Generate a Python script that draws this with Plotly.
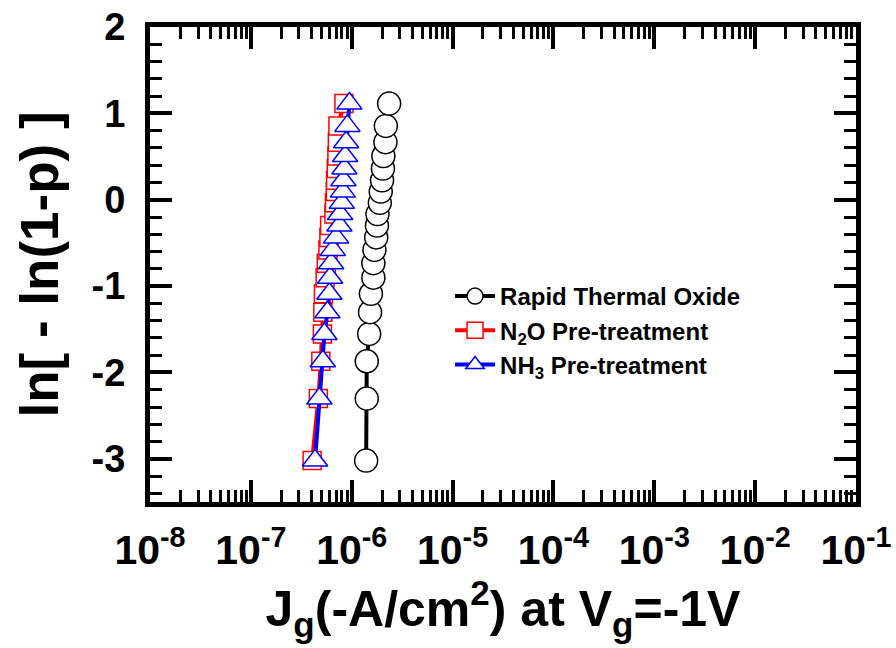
import plotly.graph_objects as go

# ln[-ln(1-p)] values
y_vals = [-3.020, -2.302, -1.870, -1.554, -1.302, -1.089, -0.903, -0.735, -0.581, -0.436,
          -0.299, -0.166, -0.036, 0.094, 0.225, 0.361, 0.506, 0.666, 0.855, 1.113]

# Jg (A/cm^2) values
rto_j = [1.39e-6, 1.41e-6, 1.41e-6, 1.49e-6, 1.52e-6, 1.55e-6, 1.64e-6, 1.64e-6, 1.68e-6, 1.75e-6,
         1.78e-6, 1.80e-6, 1.90e-6, 1.94e-6, 2.00e-6, 2.04e-6, 2.06e-6, 2.16e-6, 2.18e-6, 2.35e-6]
n2o_j = [4.05e-7, 4.67e-7, 4.94e-7, 5.12e-7, 5.17e-7, 5.24e-7, 5.45e-7, 5.60e-7, 5.81e-7, 5.94e-7,
         6.04e-7, 6.66e-7, 6.74e-7, 6.88e-7, 6.92e-7, 7.03e-7, 7.13e-7, 7.20e-7, 7.30e-7, 8.37e-7]
nh3_j = [4.33e-7, 4.78e-7, 5.17e-7, 5.36e-7, 5.74e-7, 6.01e-7, 6.11e-7, 6.25e-7, 6.49e-7, 7.00e-7,
         7.55e-7, 7.67e-7, 7.98e-7, 8.16e-7, 8.27e-7, 8.46e-7, 8.60e-7, 8.80e-7, 9.06e-7, 9.49e-7]

series_names = ["Rapid Thermal Oxide", "N<sub>2</sub>O Pre-treatment", "NH<sub>3</sub> Pre-treatment"]

x_tickvals = [1e-8, 1e-7, 1e-6, 1e-5, 1e-4, 1e-3, 1e-2, 1e-1]
x_ticktext = ["10<sup>-8</sup>", "10<sup>-7</sup>", "10<sup>-6</sup>", "10<sup>-5</sup>",
              "10<sup>-4</sup>", "10<sup>-3</sup>", "10<sup>-2</sup>", "10<sup>-1</sup>"]
y_tickvals = [-3, -2, -1, 0, 1, 2]
y_ticktext = ["-3", "-2", "-1", "0", "1", "2"]

FONT = "Liberation Sans, Arial, sans-serif"

fig = go.Figure()
fig.add_trace(go.Scatter(x=rto_j, y=y_vals, mode="lines+markers", name=series_names[0],
                         line=dict(color="black", width=4),
                         marker=dict(symbol="circle", size=23, color="white",
                                     line=dict(color="black", width=1.5))))
fig.add_trace(go.Scatter(x=n2o_j, y=y_vals, mode="lines+markers", name=series_names[1],
                         line=dict(color="#ff0000", width=4),
                         marker=dict(symbol="square", size=18, color="white",
                                     line=dict(color="#ff0000", width=1.5))))
fig.add_trace(go.Scatter(x=nh3_j, y=y_vals, mode="lines+markers", name=series_names[2],
                         line=dict(color="#0000ff", width=4),
                         marker=dict(symbol="triangle-up", size=22, color="white",
                                     line=dict(color="#0000ff", width=1.5))))

fig.update_layout(
    width=896, height=648,
    margin=dict(l=150, r=40, t=27, b=146),
    paper_bgcolor="white", plot_bgcolor="white",
    font=dict(family=FONT, color="black", weight="bold"),
    showlegend=True,
    legend=dict(x=0.425, y=0.48, xanchor="left", yanchor="top",
                bgcolor="rgba(0,0,0,0)", font=dict(size=24, family=FONT, weight="bold"),
                itemwidth=40),
)
fig.update_xaxes(
    type="log", range=[-8, -1],
    tickvals=x_tickvals, ticktext=x_ticktext,
    tickfont=dict(size=41, family=FONT, weight="bold"),
    ticks="inside", ticklen=22, tickwidth=4, tickcolor="black",
    minor=dict(ticks="inside", ticklen=12, tickwidth=2.5, tickcolor="black", dtick="D1", showgrid=False),
    showline=True, linewidth=5, linecolor="black", mirror="ticks",
    showgrid=False, zeroline=False, automargin=False,
    ticklabelstandoff=8,
    title=dict(text="J<sub>g</sub>(-A/cm<sup>2</sup>) at V<sub>g</sub>=-1V",
               font=dict(size=50, family=FONT, weight="bold"), standoff=6),
)
fig.update_yaxes(
    range=[-3.5, 2],
    tickvals=y_tickvals, ticktext=y_ticktext,
    tickfont=dict(size=38, family=FONT, weight="bold"),
    ticks="inside", ticklen=22, tickwidth=4, tickcolor="black",
    minor=dict(ticks="inside", ticklen=12, tickwidth=2.5, tickcolor="black", dtick=0.2, showgrid=False),
    showline=True, linewidth=5, linecolor="black", mirror="ticks",
    showgrid=False, zeroline=False, automargin=False,
    ticklabelstandoff=12,
    title=dict(text="ln[ - ln(1-p) ]", font=dict(size=53, family=FONT, weight="bold"), standoff=18),
)

fig.write_html("out.html")
